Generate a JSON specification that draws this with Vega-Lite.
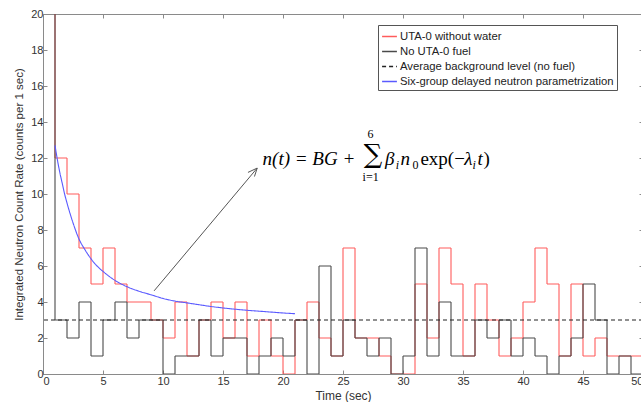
{
  "$schema": "https://vega.github.io/schema/vega-lite/v6.json",
  "width": 641,
  "height": 402,
  "autosize": {"type": "fit", "contains": "padding"},
  "padding": {"left": 13, "top": 8, "right": -3, "bottom": 1},
  "background": "white",
  "config": {
    "view": {"stroke": "#8a8a8a", "strokeWidth": 1},
    "axis": {
      "grid": false,
      "domain": false,
      "labelFont": "Liberation Sans",
      "labelFontSize": 11,
      "labelColor": "#333333",
      "titleFont": "Liberation Sans",
      "titleFontWeight": "normal",
      "titleColor": "#333333",
      "tickColor": "#8a8a8a",
      "tickSize": -4
    },
    "legend": {
      "labelFont": "Liberation Sans",
      "labelFontSize": 11.3,
      "labelColor": "#222222",
      "labelLimit": 0
    }
  },
  "datasets": {
    "counts": [
      {"t": 0, "rate": 40, "series": "UTA-0 without water"},
      {"t": 1, "rate": 12, "series": "UTA-0 without water"},
      {"t": 2, "rate": 10, "series": "UTA-0 without water"},
      {"t": 3, "rate": 7, "series": "UTA-0 without water"},
      {"t": 4, "rate": 5, "series": "UTA-0 without water"},
      {"t": 5, "rate": 7, "series": "UTA-0 without water"},
      {"t": 6, "rate": 5, "series": "UTA-0 without water"},
      {"t": 7, "rate": 4, "series": "UTA-0 without water"},
      {"t": 8, "rate": 4, "series": "UTA-0 without water"},
      {"t": 9, "rate": 3, "series": "UTA-0 without water"},
      {"t": 10, "rate": 2, "series": "UTA-0 without water"},
      {"t": 11, "rate": 4, "series": "UTA-0 without water"},
      {"t": 12, "rate": 1, "series": "UTA-0 without water"},
      {"t": 13, "rate": 3, "series": "UTA-0 without water"},
      {"t": 14, "rate": 4, "series": "UTA-0 without water"},
      {"t": 15, "rate": 2, "series": "UTA-0 without water"},
      {"t": 16, "rate": 4, "series": "UTA-0 without water"},
      {"t": 17, "rate": 1, "series": "UTA-0 without water"},
      {"t": 18, "rate": 3, "series": "UTA-0 without water"},
      {"t": 19, "rate": 1, "series": "UTA-0 without water"},
      {"t": 20, "rate": 0, "series": "UTA-0 without water"},
      {"t": 21, "rate": 3, "series": "UTA-0 without water"},
      {"t": 22, "rate": 4, "series": "UTA-0 without water"},
      {"t": 23, "rate": 2, "series": "UTA-0 without water"},
      {"t": 24, "rate": 1, "series": "UTA-0 without water"},
      {"t": 25, "rate": 7, "series": "UTA-0 without water"},
      {"t": 26, "rate": 2, "series": "UTA-0 without water"},
      {"t": 27, "rate": 2, "series": "UTA-0 without water"},
      {"t": 28, "rate": 1, "series": "UTA-0 without water"},
      {"t": 29, "rate": 0, "series": "UTA-0 without water"},
      {"t": 30, "rate": 0, "series": "UTA-0 without water"},
      {"t": 31, "rate": 5, "series": "UTA-0 without water"},
      {"t": 32, "rate": 2, "series": "UTA-0 without water"},
      {"t": 33, "rate": 7, "series": "UTA-0 without water"},
      {"t": 34, "rate": 5, "series": "UTA-0 without water"},
      {"t": 35, "rate": 1, "series": "UTA-0 without water"},
      {"t": 36, "rate": 5, "series": "UTA-0 without water"},
      {"t": 37, "rate": 3, "series": "UTA-0 without water"},
      {"t": 38, "rate": 1, "series": "UTA-0 without water"},
      {"t": 39, "rate": 2, "series": "UTA-0 without water"},
      {"t": 40, "rate": 4, "series": "UTA-0 without water"},
      {"t": 41, "rate": 7, "series": "UTA-0 without water"},
      {"t": 42, "rate": 5, "series": "UTA-0 without water"},
      {"t": 43, "rate": 1, "series": "UTA-0 without water"},
      {"t": 44, "rate": 5, "series": "UTA-0 without water"},
      {"t": 45, "rate": 1, "series": "UTA-0 without water"},
      {"t": 46, "rate": 2, "series": "UTA-0 without water"},
      {"t": 47, "rate": 1, "series": "UTA-0 without water"},
      {"t": 48, "rate": 1, "series": "UTA-0 without water"},
      {"t": 49, "rate": 1, "series": "UTA-0 without water"},
      {"t": 50, "rate": 1, "series": "UTA-0 without water"},
      {"t": 0, "rate": 30, "series": "No UTA-0 fuel"},
      {"t": 1, "rate": 3, "series": "No UTA-0 fuel"},
      {"t": 2, "rate": 2, "series": "No UTA-0 fuel"},
      {"t": 3, "rate": 4, "series": "No UTA-0 fuel"},
      {"t": 4, "rate": 1, "series": "No UTA-0 fuel"},
      {"t": 5, "rate": 3, "series": "No UTA-0 fuel"},
      {"t": 6, "rate": 4, "series": "No UTA-0 fuel"},
      {"t": 7, "rate": 2, "series": "No UTA-0 fuel"},
      {"t": 8, "rate": 3, "series": "No UTA-0 fuel"},
      {"t": 9, "rate": 3, "series": "No UTA-0 fuel"},
      {"t": 10, "rate": 0, "series": "No UTA-0 fuel"},
      {"t": 11, "rate": 1, "series": "No UTA-0 fuel"},
      {"t": 12, "rate": 1, "series": "No UTA-0 fuel"},
      {"t": 13, "rate": 3, "series": "No UTA-0 fuel"},
      {"t": 14, "rate": 1, "series": "No UTA-0 fuel"},
      {"t": 15, "rate": 2, "series": "No UTA-0 fuel"},
      {"t": 16, "rate": 2, "series": "No UTA-0 fuel"},
      {"t": 17, "rate": 0, "series": "No UTA-0 fuel"},
      {"t": 18, "rate": 1, "series": "No UTA-0 fuel"},
      {"t": 19, "rate": 2, "series": "No UTA-0 fuel"},
      {"t": 20, "rate": 1, "series": "No UTA-0 fuel"},
      {"t": 21, "rate": 3, "series": "No UTA-0 fuel"},
      {"t": 22, "rate": 0, "series": "No UTA-0 fuel"},
      {"t": 23, "rate": 6, "series": "No UTA-0 fuel"},
      {"t": 24, "rate": 1, "series": "No UTA-0 fuel"},
      {"t": 25, "rate": 3, "series": "No UTA-0 fuel"},
      {"t": 26, "rate": 2, "series": "No UTA-0 fuel"},
      {"t": 27, "rate": 1, "series": "No UTA-0 fuel"},
      {"t": 28, "rate": 2, "series": "No UTA-0 fuel"},
      {"t": 29, "rate": 0, "series": "No UTA-0 fuel"},
      {"t": 30, "rate": 1, "series": "No UTA-0 fuel"},
      {"t": 31, "rate": 7, "series": "No UTA-0 fuel"},
      {"t": 32, "rate": 1, "series": "No UTA-0 fuel"},
      {"t": 33, "rate": 4, "series": "No UTA-0 fuel"},
      {"t": 34, "rate": 1, "series": "No UTA-0 fuel"},
      {"t": 35, "rate": 1, "series": "No UTA-0 fuel"},
      {"t": 36, "rate": 3, "series": "No UTA-0 fuel"},
      {"t": 37, "rate": 2, "series": "No UTA-0 fuel"},
      {"t": 38, "rate": 3, "series": "No UTA-0 fuel"},
      {"t": 39, "rate": 1, "series": "No UTA-0 fuel"},
      {"t": 40, "rate": 2, "series": "No UTA-0 fuel"},
      {"t": 41, "rate": 1, "series": "No UTA-0 fuel"},
      {"t": 42, "rate": 0, "series": "No UTA-0 fuel"},
      {"t": 43, "rate": 1, "series": "No UTA-0 fuel"},
      {"t": 44, "rate": 2, "series": "No UTA-0 fuel"},
      {"t": 45, "rate": 5, "series": "No UTA-0 fuel"},
      {"t": 46, "rate": 3, "series": "No UTA-0 fuel"},
      {"t": 47, "rate": 0, "series": "No UTA-0 fuel"},
      {"t": 48, "rate": 1, "series": "No UTA-0 fuel"},
      {"t": 49, "rate": 0, "series": "No UTA-0 fuel"},
      {"t": 50, "rate": 0, "series": "No UTA-0 fuel"}
    ],
    "bg": [
      {"series": "Average background level (no fuel)", "level": 3}
    ],
    "fit": [
      {"t": 1.0, "rate": 12.7, "series": "Six-group delayed neutron parametrization"},
      {"t": 1.2, "rate": 11.9, "series": "Six-group delayed neutron parametrization"},
      {"t": 1.4, "rate": 11.2, "series": "Six-group delayed neutron parametrization"},
      {"t": 1.6, "rate": 10.6, "series": "Six-group delayed neutron parametrization"},
      {"t": 1.8, "rate": 10.0, "series": "Six-group delayed neutron parametrization"},
      {"t": 2.0, "rate": 9.5, "series": "Six-group delayed neutron parametrization"},
      {"t": 2.5, "rate": 8.4, "series": "Six-group delayed neutron parametrization"},
      {"t": 3.0, "rate": 7.5, "series": "Six-group delayed neutron parametrization"},
      {"t": 3.5, "rate": 6.9, "series": "Six-group delayed neutron parametrization"},
      {"t": 4.0, "rate": 6.4, "series": "Six-group delayed neutron parametrization"},
      {"t": 4.5, "rate": 6.0, "series": "Six-group delayed neutron parametrization"},
      {"t": 5.0, "rate": 5.7, "series": "Six-group delayed neutron parametrization"},
      {"t": 6.0, "rate": 5.2, "series": "Six-group delayed neutron parametrization"},
      {"t": 7.0, "rate": 4.85, "series": "Six-group delayed neutron parametrization"},
      {"t": 8.0, "rate": 4.6, "series": "Six-group delayed neutron parametrization"},
      {"t": 9.0, "rate": 4.4, "series": "Six-group delayed neutron parametrization"},
      {"t": 10.0, "rate": 4.2, "series": "Six-group delayed neutron parametrization"},
      {"t": 11.0, "rate": 4.05, "series": "Six-group delayed neutron parametrization"},
      {"t": 12.0, "rate": 3.95, "series": "Six-group delayed neutron parametrization"},
      {"t": 13.0, "rate": 3.85, "series": "Six-group delayed neutron parametrization"},
      {"t": 14.0, "rate": 3.75, "series": "Six-group delayed neutron parametrization"},
      {"t": 15.0, "rate": 3.67, "series": "Six-group delayed neutron parametrization"},
      {"t": 16.0, "rate": 3.6, "series": "Six-group delayed neutron parametrization"},
      {"t": 17.0, "rate": 3.54, "series": "Six-group delayed neutron parametrization"},
      {"t": 18.0, "rate": 3.49, "series": "Six-group delayed neutron parametrization"},
      {"t": 19.0, "rate": 3.44, "series": "Six-group delayed neutron parametrization"},
      {"t": 20.0, "rate": 3.39, "series": "Six-group delayed neutron parametrization"},
      {"t": 21.0, "rate": 3.35, "series": "Six-group delayed neutron parametrization"}
    ],
    "arrow": [
      {"g": "shaft", "k": 0, "x": 9.26, "y": 4.62},
      {"g": "shaft", "k": 1, "x": 17.85, "y": 11.44},
      {"g": "head", "k": 0, "x": 17.08, "y": 11.2},
      {"g": "head", "k": 1, "x": 17.85, "y": 11.44},
      {"g": "head", "k": 2, "x": 17.62, "y": 10.97}
    ],
    "eq": [
      {"role": "it", "x": 18.3, "y": 11.6, "label": "n(t) = BG +"},
      {"role": "sum", "x": 27.5, "y": 11.75, "label": "∑"},
      {"role": "lim", "x": 27.3, "y": 13.1, "label": "6"},
      {"role": "lim", "x": 27.3, "y": 10.7, "label": "i=1"},
      {"role": "it", "x": 28.51, "y": 11.6, "label": "β"},
      {"role": "subit", "x": 29.4, "y": 11.38, "label": "i"},
      {"role": "it", "x": 29.8, "y": 11.6, "label": "n"},
      {"role": "subup", "x": 30.8, "y": 11.38, "label": "0"},
      {"role": "up", "x": 31.45, "y": 11.6, "label": "exp(−"},
      {"role": "it", "x": 35.1, "y": 11.6, "label": "λ"},
      {"role": "subit", "x": 35.8, "y": 11.38, "label": "i"},
      {"role": "it", "x": 36.2, "y": 11.6, "label": "t"},
      {"role": "up", "x": 36.7, "y": 11.6, "label": ")"}
    ]
  },
  "layer": [
    {
      "data": {"name": "counts"},
      "transform": [{"filter": "datum.series === 'UTA-0 without water'"}],
      "mark": {"type": "line", "interpolate": "step-after", "clip": true, "strokeWidth": 1.1},
      "encoding": {
        "x": {"field": "t", "type": "quantitative",
              "scale": {"domain": [0, 50], "nice": false, "zero": false},
              "axis": {"orient": "bottom", "values": [0,5,10,15,20,25,30,35,40,45,50], "title": "Time (sec)", "titleFontSize": 12, "labelPadding": 5, "titlePadding": 4}},
        "y": {"field": "rate", "type": "quantitative",
              "scale": {"domain": [0, 20], "nice": false},
              "axis": {"orient": "left", "values": [0,2,4,6,8,10,12,14,16,18,20], "title": "Integrated Neutron Count Rate (counts per 1 sec)", "titleFontSize": 11.5, "labelPadding": 4, "titlePadding": 6}},
        "color": {"field": "series", "type": "nominal",
                  "scale": {"domain": ["UTA-0 without water", "No UTA-0 fuel", "Average background level (no fuel)", "Six-group delayed neutron parametrization"],
                            "range": ["#ff5c5c", "#4a4a4a", "#222222", "#5a5aff"]},
                  "legend": {"title": null, "orient": "none", "legendX": 335, "legendY": 11,
                             "symbolType": "stroke", "symbolSize": 220, "symbolStrokeWidth": 1.4,
                             "strokeColor": "#555555", "fillColor": "white", "padding": 3,
                             "rowPadding": 1, "labelOffset": 2,
                             "encode": {"symbols": {"update": {
                               "stroke": {"scale": "color", "field": "value"},
                               "strokeDash": {"signal": "datum.value === 'Average background level (no fuel)' ? [4, 3] : [1, 0]"}}}}}},
        "strokeDash": {"field": "series", "type": "nominal",
                       "scale": {"domain": ["UTA-0 without water", "No UTA-0 fuel", "Average background level (no fuel)", "Six-group delayed neutron parametrization"],
                                 "range": [[1, 0], [1, 0], [4, 3], [1, 0]]},
                       "legend": null}
      }
    },
    {
      "data": {"name": "counts"},
      "transform": [{"filter": "datum.series === 'No UTA-0 fuel'"}],
      "mark": {"type": "line", "interpolate": "step-after", "clip": true, "strokeWidth": 1.1},
      "encoding": {
        "x": {"field": "t", "type": "quantitative", "axis": null},
        "y": {"field": "rate", "type": "quantitative", "axis": null},
        "color": {"field": "series", "type": "nominal"},
        "strokeDash": {"field": "series", "type": "nominal"}
      }
    },
    {
      "data": {"name": "bg"},
      "mark": {"type": "rule", "strokeWidth": 1.2},
      "encoding": {
        "y": {"field": "level", "type": "quantitative", "axis": null},
        "color": {"field": "series", "type": "nominal"},
        "strokeDash": {"field": "series", "type": "nominal"}
      }
    },
    {
      "data": {"name": "fit"},
      "mark": {"type": "line", "interpolate": "monotone", "strokeWidth": 1.1},
      "encoding": {
        "x": {"field": "t", "type": "quantitative",
              "axis": {"orient": "top", "values": [0,5,10,15,20,25,30,35,40,45,50], "labels": false, "title": null}},
        "y": {"field": "rate", "type": "quantitative",
              "axis": {"orient": "right", "values": [0,2,4,6,8,10,12,14,16,18,20], "labels": false, "title": null}},
        "color": {"field": "series", "type": "nominal"},
        "strokeDash": {"field": "series", "type": "nominal"}
      }
    },
    {
      "data": {"name": "arrow"},
      "mark": {"type": "line", "color": "#555555", "strokeWidth": 1},
      "encoding": {
        "x": {"field": "x", "type": "quantitative", "axis": null},
        "y": {"field": "y", "type": "quantitative", "axis": null},
        "detail": {"field": "g"},
        "order": {"field": "k"}
      }
    },
    {
      "data": {"name": "eq"},
      "transform": [{"filter": "datum.role === 'it'"}],
      "mark": {"type": "text", "font": "Liberation Serif", "fontStyle": "italic", "fontSize": 19, "align": "left", "baseline": "alphabetic", "color": "#000000"},
      "encoding": {
        "x": {"field": "x", "type": "quantitative", "axis": null},
        "y": {"field": "y", "type": "quantitative", "axis": null},
        "text": {"field": "label"}
      }
    },
    {
      "data": {"name": "eq"},
      "transform": [{"filter": "datum.role === 'up'"}],
      "mark": {"type": "text", "font": "Liberation Serif", "fontSize": 19, "align": "left", "baseline": "alphabetic", "color": "#000000"},
      "encoding": {
        "x": {"field": "x", "type": "quantitative", "axis": null},
        "y": {"field": "y", "type": "quantitative", "axis": null},
        "text": {"field": "label"}
      }
    },
    {
      "data": {"name": "eq"},
      "transform": [{"filter": "datum.role === 'subit'"}],
      "mark": {"type": "text", "font": "Liberation Serif", "fontStyle": "italic", "fontSize": 12, "align": "left", "baseline": "alphabetic", "color": "#000000"},
      "encoding": {
        "x": {"field": "x", "type": "quantitative", "axis": null},
        "y": {"field": "y", "type": "quantitative", "axis": null},
        "text": {"field": "label"}
      }
    },
    {
      "data": {"name": "eq"},
      "transform": [{"filter": "datum.role === 'subup'"}],
      "mark": {"type": "text", "font": "Liberation Serif", "fontSize": 12, "align": "left", "baseline": "alphabetic", "color": "#000000"},
      "encoding": {
        "x": {"field": "x", "type": "quantitative", "axis": null},
        "y": {"field": "y", "type": "quantitative", "axis": null},
        "text": {"field": "label"}
      }
    },
    {
      "data": {"name": "eq"},
      "transform": [{"filter": "datum.role === 'sum'"}],
      "mark": {"type": "text", "font": "DejaVu Serif", "fontSize": 26, "align": "center", "baseline": "alphabetic", "color": "#000000"},
      "encoding": {
        "x": {"field": "x", "type": "quantitative", "axis": null},
        "y": {"field": "y", "type": "quantitative", "axis": null},
        "text": {"field": "label"}
      }
    },
    {
      "data": {"name": "eq"},
      "transform": [{"filter": "datum.role === 'lim'"}],
      "mark": {"type": "text", "font": "Liberation Serif", "fontSize": 12, "align": "center", "baseline": "alphabetic", "color": "#000000"},
      "encoding": {
        "x": {"field": "x", "type": "quantitative", "axis": null},
        "y": {"field": "y", "type": "quantitative", "axis": null},
        "text": {"field": "label"}
      }
    }
  ],
  "resolve": {"axis": {"x": "independent", "y": "independent"}}
}
